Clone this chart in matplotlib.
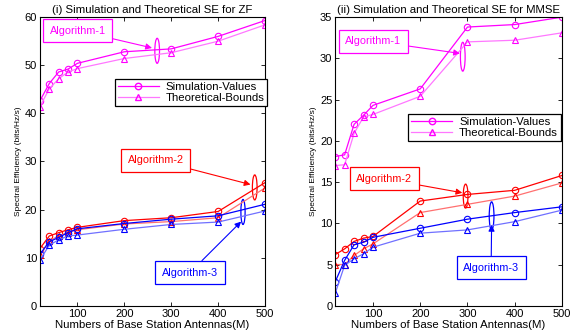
import matplotlib
matplotlib.use("Agg")
import matplotlib.pyplot as plt
from matplotlib.patches import Ellipse
from matplotlib.lines import Line2D

plt.rcParams['font.family'] = ['Liberation Sans', 'DejaVu Sans']

antennas = [20, 40, 60, 80, 100, 200, 300, 400, 500]

# (i) ZF
zf_alg1_sim = [42.6, 46.2, 48.6, 49.2, 50.4, 52.8, 53.4, 56.0, 59.3]
zf_alg1_th = [41.4, 45.1, 47.2, 48.6, 49.3, 51.4, 52.6, 55.0, 58.4]
zf_alg2_sim = [11.9, 14.5, 15.2, 15.8, 16.3, 17.7, 18.3, 19.6, 25.6]
zf_alg2_th = [10.5, 13.5, 14.5, 15.2, 15.8, 17.0, 17.5, 18.3, 24.5]
zf_alg3_sim = [10.7, 13.3, 14.2, 15.2, 16.0, 17.1, 18.0, 18.7, 21.1]
zf_alg3_th = [9.5, 12.6, 13.7, 14.5, 14.7, 15.9, 16.9, 17.4, 19.7]

# (ii) MMSE
mm_alg1_sim = [18.1, 18.3, 22.0, 23.1, 24.3, 26.3, 33.8, 34.1, 35.0]
mm_alg1_th = [17.0, 17.1, 20.9, 22.9, 23.2, 25.4, 32.0, 32.2, 33.1]
mm_alg2_sim = [6.2, 6.9, 7.8, 8.2, 8.4, 12.7, 13.5, 14.0, 15.8]
mm_alg2_th = [5.0, 5.0, 6.1, 6.9, 7.5, 11.3, 12.3, 13.3, 14.9]
mm_alg3_sim = [2.9, 5.5, 7.4, 7.7, 8.3, 9.4, 10.5, 11.3, 12.0]
mm_alg3_th = [1.5, 4.9, 5.7, 6.3, 7.1, 8.8, 9.2, 10.2, 11.6]

magenta = '#ff00ff'
magenta_l = '#ff77ff'
red = '#ff0000'
red_l = '#ff7070'
blue = '#0000ff'
blue_l = '#7070ff'


def draw_series(ax, sim, th, c, cl):
    ax.plot(antennas, sim, '-o', color=c, mfc='none', mec=c, ms=4.6, lw=0.9, mew=0.8)
    ax.plot(antennas, th, '-^', color=cl, mfc='none', mec=c, ms=4.8, lw=0.9, mew=0.8)


def note(ax, text, c, box_xy, arrow_end, ell_xy, ell_w, ell_h):
    ax.annotate(text, xy=arrow_end, xytext=box_xy, color=c, fontsize=7.8,
                ha='center', va='center',
                bbox=dict(boxstyle='square,pad=0.6', fc='white', ec=c, lw=0.9),
                arrowprops=dict(arrowstyle='-|>', color=c, lw=0.8,
                                mutation_scale=9, shrinkA=0, shrinkB=0))
    ax.add_patch(Ellipse(ell_xy, ell_w, ell_h, fill=False, ec=c, lw=0.9))


def style(ax, ylim, yticks, title):
    ax.set_xlim(20, 500)
    ax.set_ylim(*ylim)
    ax.set_xticks([100, 200, 300, 400, 500])
    ax.set_yticks(yticks)
    ax.tick_params(direction='in', top=True, right=True, labelsize=8,
                   length=3, width=0.6, pad=2)
    for s in ax.spines.values():
        s.set_linewidth(0.8)
    ax.set_title(title, fontsize=8.2, pad=3)
    ax.set_xlabel('Numbers of Base Station Antennas(M)', fontsize=8.2, labelpad=1)
    ax.set_ylabel('Spectral Efficiency (bits/Hz/s)', fontsize=6, labelpad=2)


def legend(ax, anchor):
    h = [Line2D([], [], color=magenta, marker='o', mfc='none', ms=4.6, lw=0.9),
         Line2D([], [], color=magenta_l, marker='^', mfc='none', mec=magenta, ms=4.8, lw=0.9)]
    lg = ax.legend(h, ['Simulation-Values', 'Theoretical-Bounds'], loc='upper right',
                   bbox_to_anchor=anchor, fontsize=8.2, fancybox=False,
                   edgecolor='black', framealpha=1, handlelength=3.6,
                   borderpad=0.25, labelspacing=0.1, handletextpad=0.6,
                   borderaxespad=0)
    lg.get_frame().set_linewidth(0.9)


fig = plt.figure(figsize=(5.7, 3.36), dpi=100)
ax1 = fig.add_axes([0.070, 0.090, 0.395, 0.859])
ax2 = fig.add_axes([0.588, 0.090, 0.398, 0.859])

draw_series(ax1, zf_alg1_sim, zf_alg1_th, magenta, magenta_l)
draw_series(ax1, zf_alg2_sim, zf_alg2_th, red, red_l)
draw_series(ax1, zf_alg3_sim, zf_alg3_th, blue, blue_l)
style(ax1, (0, 60), [0, 10, 20, 30, 40, 50, 60], '(i) Simulation and Theoretical SE for ZF')
legend(ax1, (1.01, 0.785))
note(ax1, 'Algorithm-1', magenta, (101, 57.2), (259, 53.6), (270, 53.0), 10, 5.2)
note(ax1, 'Algorithm-2', red, (267, 30.3), (469, 25.2), (478, 24.6), 10, 5.2)
note(ax1, 'Algorithm-3', blue, (340, 6.9), (449, 17.5), (453, 19.5), 9, 5.2)

draw_series(ax2, mm_alg1_sim, mm_alg1_th, magenta, magenta_l)
draw_series(ax2, mm_alg2_sim, mm_alg2_th, red, red_l)
draw_series(ax2, mm_alg3_sim, mm_alg3_th, blue, blue_l)
style(ax2, (0, 35), [0, 5, 10, 15, 20, 25, 30, 35], '(ii) Simulation and Theoretical SE for MMSE')
legend(ax2, (0.995, 0.664))
note(ax2, 'Algorithm-1', magenta, (101, 32.1), (284, 30.6), (290, 30.2), 10, 3.5)
note(ax2, 'Algorithm-2', red, (124, 15.4), (289, 13.7), (296, 13.3), 10, 2.9)
note(ax2, 'Algorithm-3', blue, (350, 4.6), (351, 9.8), (351, 10.9), 10, 3.4)

fig.savefig('out.png', dpi=100)
